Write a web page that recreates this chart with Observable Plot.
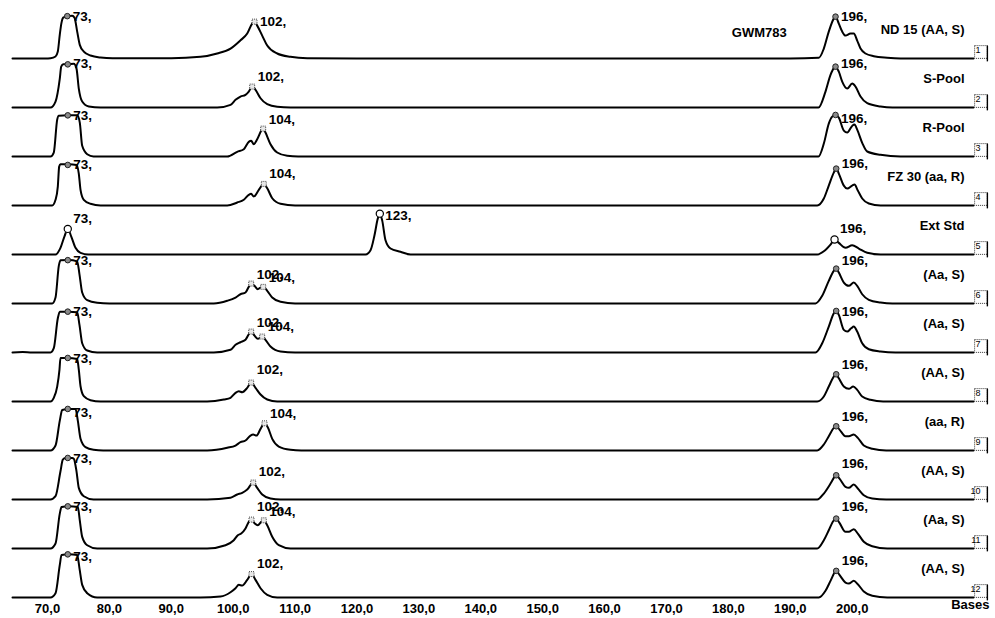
<!DOCTYPE html>
<html>
<head>
<meta charset="utf-8">
<script src="https://cdn.jsdelivr.net/npm/d3@7"></script>
<script src="https://cdn.jsdelivr.net/npm/@observablehq/plot@0.6"></script>
<style>
  html, body { margin: 0; padding: 0; background: #fff; }
  #chart { width: 995px; height: 618px; }
</style>
</head>
<body>
<div id="chart"></div>
<script>
// ---- Data (x = size in bases, h = signal height) ----
const laneIds = [1,2,3,4,5,6,7,8,9,10,11,12];
const laneNames = ["ND 15 (AA, S)","S-Pool","R-Pool","FZ 30 (aa, R)","Ext Std","(Aa, S)","(Aa, S)","(AA, S)","(aa, R)","(AA, S)","(Aa, S)","(AA, S)"];
const markerName = "GWM783";
const xTicks = [70,80,90,100,110,120,130,140,150,160,170,180,190,200];
const xUnit = "Bases";

const lane1 = [[64.35,0],[69.68,0],[70.49,0.3],[71.30,2],[71.67,7],[71.99,24],[72.27,36],[72.54,41],[73.2,42.5],[73.99,43],[74.37,41],[74.80,27],[75.22,13.7],[75.87,7],[76.95,3],[78.57,1],[80.5,0.3],[90,0.3],[94.72,1.7],[97.42,5],[99.57,10],[101.18,18.3],[102.27,25],[103.07,35],[103.45,37],[103.88,33],[104.69,23],[105.50,13],[107.11,5],[109.26,1.7],[111.96,0.3],[120,0],[190,0],[194.61,0.7],[195.42,10],[196.22,27],[197.03,40],[197.31,42],[197.84,35],[198.39,27],[198.92,23],[199.73,25],[200.26,25],[200.81,18],[201.35,10],[202.15,5],[203.49,2.3],[205.66,0.7],[207.81,0],[219.6,0]];
const lane2 = [[64.35,0],[70.49,0],[71.30,6],[71.99,29],[72.22,41],[72.54,43.3],[73.28,43.3],[74.25,44],[74.69,39],[75.06,19],[75.61,6],[76.68,1],[78.57,0],[97.42,0],[99.57,2.7],[100.38,7.7],[101.18,11],[101.99,12.7],[102.52,16],[103.07,21],[103.61,17.7],[104.42,9.3],[105.50,3.3],[107.11,0.7],[109.26,0],[194.56,0],[195.69,16],[196.50,32.7],[197.03,39.5],[197.31,41],[197.84,36],[198.39,26],[199.20,19],[200.00,24],[200.54,21],[201.35,11],[202.43,4.3],[204.58,1],[206.5,0],[219.6,0]];
const lane3 = [[64.35,0],[70.49,0],[71.02,4],[71.57,37],[71.83,41],[73.28,41.3],[74.80,41.3],[75.22,34],[75.61,10.7],[76.42,2.3],[77.44,0],[99.04,0],[100.65,4.7],[101.72,7.3],[102.52,14.7],[102.91,15.7],[103.33,12.3],[103.88,17.3],[104.69,27.3],[104.85,28],[105.22,24],[106.03,12.3],[107.11,4],[108.73,0.7],[110.5,0],[194.56,0],[195.42,13],[196.22,33],[196.77,40],[197.31,41.7],[197.84,39],[198.65,26],[199.20,24],[200.00,30.7],[200.38,32],[200.81,27],[201.62,13.7],[202.43,5],[204.58,1.7],[207.81,0],[219.6,0]];
const lane4 = [[64.35,0],[70.76,0],[71.30,5.7],[71.67,19],[71.89,39],[72.10,41.3],[73.45,41.3],[74.69,40.7],[75.06,32],[75.34,15.7],[75.87,5.7],[76.95,1.7],[78.57,0],[99.04,0],[100.65,3],[101.72,5.7],[102.52,10.7],[102.91,11.7],[103.33,9],[104.14,15.7],[104.95,21.7],[105.50,17.3],[106.31,7.3],[107.65,1.7],[110,0],[194.35,0],[195.42,7],[196.22,20],[197.03,33],[197.42,37],[197.84,32],[198.65,20],[199.20,17],[200.00,20],[200.38,21],[200.91,15],[201.62,7],[202.69,2],[204.58,0],[219.6,0]];
const lane5 = [[64.35,0],[71.30,0],[72.10,6.7],[72.75,18.3],[73.28,25.7],[73.83,18.3],[74.53,6.7],[75.34,1.7],[76.63,0],[121.38,0],[122.19,4.3],[122.83,19.3],[123.36,36],[123.69,41],[124.08,34],[124.61,14.3],[125.42,6],[127.03,2.7],[128.65,0],[194.35,0],[195.42,3.3],[196.50,10],[197.15,15],[197.84,11.7],[198.92,6.7],[200.00,9.3],[201.07,6],[202.43,1.7],[204.58,0],[219.6,0]];
const lane6 = [[64.35,0],[70.76,0],[71.30,6],[71.83,37.7],[72.10,43.3],[73.45,43.7],[74.80,42.3],[75.17,29.3],[75.61,11],[76.42,3.3],[78.03,0.7],[80,0],[96.87,0],[99.04,2.7],[100.38,6],[101.18,9.3],[101.99,11],[102.52,16.7],[102.91,20],[103.45,17.7],[103.98,14.3],[104.42,16],[104.85,16.7],[105.50,12.7],[106.31,6],[107.65,1.7],[110,0],[194.08,0],[195.16,7.7],[196.22,22.7],[197.03,32.7],[197.42,35],[197.84,31],[198.65,21],[199.46,17.7],[200.26,21],[200.81,17.7],[201.62,9.3],[202.69,3.7],[204.58,1],[206.5,0],[219.6,0]];
const lane7 = [[64.35,0],[66.0,0.4],[67.5,0],[70.49,0],[71.02,4.3],[71.67,34.3],[71.99,41],[73.45,41],[74.80,40.3],[75.17,27.7],[75.61,9.3],[76.42,2],[78.03,0],[96.87,0],[99.57,2.7],[100.38,7.7],[101.18,10.3],[101.99,12.7],[102.52,18.3],[102.91,21],[103.45,17],[103.98,13.7],[104.69,16],[105.22,12.7],[106.03,6],[107.65,1],[110,0],[194.08,0],[195.16,9.3],[196.22,26],[197.03,39.3],[197.42,41.7],[197.84,37.7],[198.65,22.7],[199.20,21],[199.84,24.3],[200.26,26],[200.81,21],[201.62,9.3],[202.69,3.3],[204.58,1],[207,0],[219.6,0]];
const lane8 = [[64.35,0],[70.49,0],[71.02,3.7],[71.57,15],[71.94,32],[72.10,43.7],[73.28,43.7],[74.80,42.7],[75.06,32],[75.34,15.3],[75.87,5.3],[76.95,1.3],[78.57,0],[95.80,0],[98.49,2],[99.57,3.7],[100.38,8.7],[100.91,10.3],[101.46,9.3],[102.27,13.7],[102.91,19],[103.61,13.7],[104.42,7],[105.50,2],[107.11,0],[194.35,0],[195.42,5],[196.22,15],[197.03,25],[197.42,27.3],[197.84,23.3],[198.65,15],[199.46,12.7],[200.17,15],[200.81,11.7],[201.62,5],[202.96,1.7],[205,0],[219.6,0]];
const lane9 = [[64.35,0],[70.49,0],[71.30,5],[71.99,30],[72.38,40.7],[73.45,41.7],[74.53,41.7],[74.90,30],[75.34,11.7],[76.14,3.3],[77.44,0.7],[79,0],[95.80,0],[99.04,2.7],[100.38,5],[101.18,8.3],[101.99,10],[102.80,15],[103.24,16],[103.77,15],[104.42,21.7],[105.06,27.3],[105.59,23.3],[106.31,11.7],[107.37,4],[109.26,0.7],[111,0],[194.35,0],[195.42,6],[196.22,14.3],[197.03,22.7],[197.42,24.3],[197.95,21],[198.92,14.3],[199.46,14.3],[200.26,16],[200.91,12.7],[201.88,5],[203.24,1.7],[205.5,0],[219.6,0]];
const lane10 = [[64.35,0],[70.49,0],[71.30,3.3],[72.10,28.3],[72.48,40],[72.91,41.7],[73.99,41.7],[74.25,41],[74.69,28.3],[75.06,11.7],[75.87,3.3],[77.44,0],[95.80,0],[99.57,1.7],[100.65,5],[101.46,6.7],[102.27,10],[103.24,17],[103.88,11.7],[104.69,5],[106.03,1],[107.65,0],[194.35,0],[195.42,6],[196.50,16],[197.15,22.7],[197.42,24.3],[197.95,21],[198.92,12.7],[199.46,11.7],[200.26,15],[200.91,11],[201.88,4.3],[203.24,1],[205.5,0],[219.6,0]];
const lane11 = [[64.35,0],[70.49,0],[71.30,5],[71.99,35],[72.27,41.7],[73.45,42.3],[74.90,41.7],[75.22,28.3],[75.61,11.7],[76.42,3.3],[78.03,0],[95.80,0],[98.76,3.3],[100.10,8.3],[100.75,13.3],[101.30,15],[101.99,20],[102.52,26.7],[102.96,29],[103.49,25],[103.98,23.3],[104.53,26.7],[104.95,28.3],[105.50,23.3],[106.31,11.7],[107.37,3.3],[109.26,0],[194.35,0],[195.42,8.3],[196.22,18.3],[197.03,28.3],[197.42,30],[197.95,25.7],[198.92,16.7],[199.46,16.7],[200.26,19.3],[200.91,15],[201.88,6.7],[203.24,2.3],[205.66,0],[219.6,0]];
const lane12 = [[64.35,0],[70.49,0],[71.30,4.3],[71.99,32.7],[72.27,42.7],[73.45,43.3],[74.80,42.7],[75.17,29.3],[75.61,12.7],[76.42,4.3],[78.03,0],[94.72,0],[97.95,1],[99.57,5.3],[100.38,9.3],[100.91,12.7],[101.46,12],[102.27,17.7],[102.96,23.5],[103.61,17.7],[104.42,9.3],[105.50,2.7],[107.11,0],[194.61,0],[195.69,6.7],[196.50,16.7],[197.15,25],[197.42,26.7],[197.95,22.7],[198.92,15],[199.46,14],[200.26,16.7],[200.91,13.3],[201.88,6],[203.24,1.7],[205.66,0],[219.6,0]];

// called peaks: [lane, size (bases), peak height, label, label level, marker kind]
const peaks = [
  [1,73.2,42.5,"73,",42,"dot"],[1,103.45,37,"102,",37,"sq"],[1,197.31,42,"196,",42,"dot"],
  [2,73.28,43.3,"73,",44,"dot"],[2,103.07,21,"102,",31,"sq"],[2,197.31,41,"196,",44,"dot"],
  [3,73.28,41.3,"73,",41.3,"dot"],[3,104.85,28,"104,",36.7,"sq"],[3,197.31,41.7,"196,",37.5,"dot"],
  [4,73.28,40.7,"73,",40.7,"dot"],[4,104.95,21.7,"104,",31.7,"sq"],[4,197.42,37,"196,",41.7,"dot"],
  [5,73.28,25.7,"73,",36.3,"open"],[5,123.69,41,"123,",39.3,"open"],[5,197.15,15,"196,",26,"open"],
  [6,73.28,43.5,"73,",42.7,"dot"],[6,102.91,20,"102,",29.3,"sq"],[6,104.85,16.7,"104,",26,"sq"],[6,197.42,35,"196,",42.7,"dot"],
  [7,73.28,41,"73,",41,"dot"],[7,102.91,21,"102,",30.3,"sq"],[7,104.69,16,"104,",26,"sq"],[7,197.42,41.7,"196,",41,"dot"],
  [8,73.28,43.7,"73,",43,"dot"],[8,102.91,19,"102,",32,"sq"],[8,197.42,27.3,"196,",36.7,"dot"],
  [9,73.28,41.7,"73,",37.5,"dot"],[9,105.06,27.3,"104,",36.7,"sq"],[9,197.42,24.3,"196,",34.3,"dot"],
  [10,73.28,41.7,"73,",41,"dot"],[10,103.24,17,"102,",28.3,"sq"],[10,197.42,24.3,"196,",36,"dot"],
  [11,73.28,42.3,"73,",42,"dot"],[11,102.96,29,"102,",41.7,"sq"],[11,104.95,28.3,"104,",36.7,"sq"],[11,197.42,30,"196,",42.3,"dot"],
  [12,73.28,43.3,"73,",41,"dot"],[12,102.96,23.5,"102,",34.3,"sq"],[12,197.42,26.7,"196,",37.3,"dot"]
];
const markerTitle = [[1, 185.0, 26]]; // [lane, size, level] where "GWM783" sits

// ---- Build tables ----
const lanes = [lane1,lane2,lane3,lane4,lane5,lane6,lane7,lane8,lane9,lane10,lane11,lane12];
const traceRows = lanes.flatMap((pts, i) => pts.map(([base, h]) => ({lane: laneIds[i], base, h})));
const peakRows = peaks.map(([lane, base, h, label, level, kind]) => ({lane, base, h, label, level, kind}));
const laneRows = laneIds.map((id, i) => ({lane: id, name: laneNames[i]}));

const FONT = "'Liberation Sans', Arial, Helvetica, sans-serif";
const boxEdge = {
  draw(ctx, size) {
    const s = Math.sqrt(size) / 2;
    ctx.moveTo(s, -s);
    ctx.lineTo(s, s + 3);
  }
};

const chart = Plot.plot({
  width: 995,
  height: 618,
  marginTop: 8,
  marginBottom: 20,
  marginLeft: 12,
  marginRight: 22,
  facet: {marginTop: 8, marginBottom: 20, marginLeft: 12, marginRight: 22},
  x: {domain: [64.35, 219.6]},
  y: {domain: [0, 49.17], axis: null},
  fy: {domain: laneIds, padding: 0, axis: null},
  style: {fontFamily: FONT, fontWeight: "bold", background: "#fff", color: "#000", overflow: "visible"},
  marks: [
    Plot.line(traceRows, {x: "base", y: "h", fy: "lane", z: "lane", stroke: "#000", strokeWidth: 2, curve: "monotone-x", strokeLinejoin: "round"}),
    // peak markers
    Plot.dot(peakRows.filter(d => d.kind === "dot"), {x: "base", y: "h", fy: "lane", r: 2.8, fill: "#8a8a8a", stroke: "#222", strokeWidth: 1}),
    Plot.dot(peakRows.filter(d => d.kind === "open"), {x: "base", y: "h", fy: "lane", r: 3.6, fill: "#fff", stroke: "#000", strokeWidth: 1.2}),
    Plot.dot(peakRows.filter(d => d.kind === "sq"), {x: "base", y: "h", fy: "lane", symbol: "square", r: 2.8, fill: "#e8e8e8", stroke: "#333", strokeWidth: 0.9, strokeDasharray: "1,1"}),
    // peak size labels
    Plot.text(peakRows, {x: "base", y: "level", fy: "lane", text: "label", textAnchor: "start", dx: 5.5, fontSize: 13.5, fontWeight: "bold", fill: "#000"}),
    // marker name
    Plot.text(markerTitle, {x: d => d[1], y: d => d[2], fy: d => d[0], text: () => markerName, fontSize: 13, fontWeight: "bold", fill: "#000"}),
    // lane names
    Plot.text(laneRows, {fy: "lane", text: "name", frameAnchor: "bottom-right", textAnchor: "end", dx: -9, dy: -25, fontSize: 13, fontWeight: "bold", fill: "#000"}),
    // lane number boxes
    Plot.dot(laneRows, {fy: "lane", frameAnchor: "bottom-right", dx: 7.5, dy: -6.5, symbol: "square", r: 7.2, fill: "#fff", stroke: "#000", strokeWidth: 0.8, strokeDasharray: "1,1"}),
    Plot.dot(laneRows, {fy: "lane", frameAnchor: "bottom-right", dx: 7.5, dy: -6.5, symbol: boxEdge, r: 7.2, stroke: "#000", strokeWidth: 1.4}),
    Plot.text(laneRows, {fy: "lane", text: d => String(d.lane), frameAnchor: "bottom-right", dx: 7, dy: -6, fontSize: 9, fontWeight: "normal", fill: "#000", stroke: "none"}),
    // x axis
    Plot.axisX({ticks: xTicks, tickFormat: d => d.toFixed(1).replace(".", ","), tickSize: 0, tickPadding: 6, fontSize: 13, fontWeight: "bold", label: null}),
    Plot.text([xUnit], {fy: () => 12, frameAnchor: "bottom-right", textAnchor: "end", dx: 16, dy: 11.5, fontSize: 13, fontWeight: "bold", fill: "#000"})
  ]
});
document.getElementById("chart").appendChild(chart);
</script>
</body>
</html>
